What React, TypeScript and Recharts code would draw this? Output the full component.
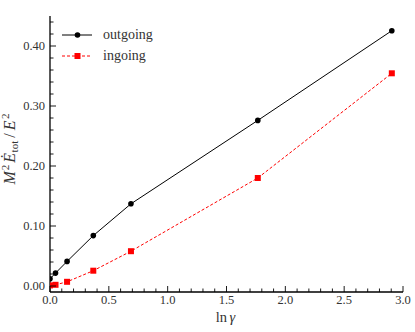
import React from 'react';
import { LineChart, Line, XAxis, YAxis, Legend } from 'recharts';

// ---- data ----
const lnGamma = [0, 0.047, 0.145, 0.368, 0.688, 1.766, 2.905];
const outgoing = [0.012, 0.0215, 0.041, 0.084, 0.137, 0.276, 0.4255];
const ingoing = [0.001, 0.002, 0.007, 0.0255, 0.058, 0.18, 0.3545];

const xTicks = [
  0, 0.1, 0.2, 0.3, 0.4, 0.5, 0.6, 0.7, 0.8, 0.9, 1.0, 1.1, 1.2, 1.3, 1.4, 1.5,
  1.6, 1.7, 1.8, 1.9, 2.0, 2.1, 2.2, 2.3, 2.4, 2.5, 2.6, 2.7, 2.8, 2.9, 3.0,
];
const yTicks = [
  0, 0.02, 0.04, 0.06, 0.08, 0.1, 0.12, 0.14, 0.16, 0.18, 0.2, 0.22, 0.24, 0.26,
  0.28, 0.3, 0.32, 0.34, 0.36, 0.38, 0.4, 0.42, 0.44,
];
const seriesNames = ['outgoing', 'ingoing'];

const data = lnGamma.map((x, i) => ({ x, out: outgoing[i], inn: ingoing[i] }));

// ---- styling ----
const FONT = 'Liberation Serif';
const RED = '#ff0000';
const TXT = '#333';
const isMajor = (v: number, step: number) => Math.abs(v / step - Math.round(v / step)) < 1e-6;
const MAJ = 6;
const MIN = 3.5;

const BottomTick = (p: any) => {
  const { x, y, payload } = p;
  const v = payload.value as number;
  const major = isMajor(v, 0.5);
  return (
    <g>
      <line x1={x} x2={x} y1={y} y2={y - (major ? MAJ : MIN)} stroke="#000" strokeWidth={0.9} />
      {major && (
        <text x={x} y={y + 12} textAnchor="middle" fontSize={12.5} fontFamily={FONT} style={{ fontFamily: FONT }} fill={TXT}>
          {v.toFixed(1)}
        </text>
      )}
    </g>
  );
};

const TopTick = (p: any) => {
  const { x, y, payload } = p;
  const v = payload.value as number;
  const major = isMajor(v, 0.5);
  return <line x1={x} x2={x} y1={y} y2={y + (major ? MAJ : MIN)} stroke="#000" strokeWidth={0.9} />;
};

const LeftTick = (p: any) => {
  const { x, y, payload } = p;
  const v = payload.value as number;
  const major = isMajor(v, 0.1);
  return (
    <g>
      <line x1={x} x2={x + (major ? MAJ : MIN)} y1={y} y2={y} stroke="#000" strokeWidth={0.9} />
      {major && (
        <text x={x - 5} y={y + 4.3} textAnchor="end" fontSize={12.5} fontFamily={FONT} style={{ fontFamily: FONT }} fill={TXT}>
          {v.toFixed(2)}
        </text>
      )}
    </g>
  );
};

const RightTick = (p: any) => {
  const { x, y, payload } = p;
  const v = payload.value as number;
  const major = isMajor(v, 0.1);
  return <line x1={x} x2={x - (major ? MAJ : MIN)} y1={y} y2={y} stroke="#000" strokeWidth={0.9} />;
};

const SquareDot = (p: any) => {
  const { cx, cy, index } = p;
  if (cx == null || cy == null) return <g key={`sq-${index}`} />;
  return <rect key={`sq-${index}`} x={cx - 3} y={cy - 3} width={6} height={6} fill={RED} />;
};

const YLabel = (p: any) => {
  const vb = p.viewBox || { x: 0, y: 16, width: 50, height: 276 };
  const cx = vb.x + 15;
  const cy = vb.y + vb.height / 2 - 5;
  return (
    <text
      transform={`translate(${cx},${cy}) rotate(-90)`}
      textAnchor="middle"
      fontFamily={FONT}
      style={{ fontFamily: FONT }}
      fontSize={16}
      fill={TXT}
    >
      <tspan fontStyle="italic">M</tspan>
      <tspan fontSize={11} dx={1} dy={-6}>2</tspan>
      <tspan fontStyle="italic" dx={2} dy={6}>Ė</tspan>
      <tspan fontSize={11} dx={0.5} dy={3}>tot</tspan>
      <tspan dx={3} dy={-3}>/</tspan>
      <tspan fontStyle="italic" dx={3}>E</tspan>
      <tspan fontSize={11} dx={1.5} dy={-6}>2</tspan>
    </text>
  );
};

const XLabel = (p: any) => {
  const vb = p.viewBox || { x: 50, y: 292, width: 353, height: 40 };
  return (
    <text x={vb.x + vb.width / 2 - 1} y={vb.y + 30} textAnchor="middle" fontFamily={FONT} style={{ fontFamily: FONT }} fontSize={14.5} fill={TXT}>
      <tspan>ln</tspan>
      <tspan fontStyle="italic" dx={2.5}>γ</tspan>
    </text>
  );
};

const LegendContent = () => (
  <div style={{ fontFamily: FONT, fontSize: 14, color: TXT }}>
    {seriesNames.map((name, i) => (
      <div key={name} style={{ display: 'flex', alignItems: 'center', height: 21.3 }}>
        <svg width={41.5} height={12} style={{ display: 'block' }}>
          {i === 0 ? (
            <g>
              <line x1={0} x2={30} y1={6} y2={6} stroke="#000" strokeWidth={1} />
              <circle cx={15.5} cy={6} r={2.8} fill="#000" />
            </g>
          ) : (
            <g>
              <line x1={0} x2={30} y1={6} y2={6} stroke={RED} strokeWidth={1} strokeDasharray="3 2" />
              <rect x={12.5} y={3} width={6} height={6} fill={RED} />
            </g>
          )}
        </svg>
        <span style={{ lineHeight: '14px' }}>{name}</span>
      </div>
    ))}
  </div>
);

export default function App() {
  return (
    <div style={{ position: 'absolute', left: 0, top: 0, width: 415, height: 332, background: '#fff', fontFamily: FONT }}>
      <LineChart width={415} height={332} data={data} margin={{ top: 16, right: 12, bottom: 0, left: 0 }}>
        <XAxis
          xAxisId="b"
          dataKey="x"
          type="number"
          domain={[0, 3]}
          allowDataOverflow
          ticks={xTicks}
          interval={0}
          orientation="bottom"
          height={40}
          tickSize={0}
          tickMargin={0}
          tickLine={false}
          axisLine={{ stroke: '#000', strokeWidth: 1.3 }}
          tick={<BottomTick />}
          label={<XLabel />}
        />
        <XAxis
          xAxisId="t"
          dataKey="x"
          type="number"
          domain={[0, 3]}
          allowDataOverflow
          ticks={xTicks}
          interval={0}
          orientation="top"
          height={0}
          tickSize={0}
          tickMargin={0}
          tickLine={false}
          axisLine={{ stroke: '#000', strokeWidth: 1.3 }}
          tick={<TopTick />}
        />
        <YAxis
          yAxisId="l"
          type="number"
          domain={[-0.01, 0.45]}
          allowDataOverflow
          ticks={yTicks}
          interval={0}
          orientation="left"
          width={50}
          tickSize={0}
          tickMargin={0}
          tickLine={false}
          axisLine={{ stroke: '#000', strokeWidth: 1.3 }}
          tick={<LeftTick />}
          label={<YLabel />}
        />
        <YAxis
          yAxisId="r"
          type="number"
          domain={[-0.01, 0.45]}
          allowDataOverflow
          ticks={yTicks}
          interval={0}
          orientation="right"
          width={0}
          tickSize={0}
          tickMargin={0}
          tickLine={false}
          axisLine={{ stroke: '#000', strokeWidth: 1.3 }}
          tick={<RightTick />}
        />
        <Legend
          layout="vertical"
          align="center"
          verticalAlign="middle"
          content={<LegendContent />}
          wrapperStyle={{ left: 61.5, top: 24.5, width: 'auto', height: 'auto' }}
        />
        <Line
          xAxisId="b"
          yAxisId="l"
          dataKey="out"
          name="outgoing"
          stroke="#000"
          strokeWidth={1}
          dot={{ r: 2.8, fill: '#000', stroke: '#000', strokeWidth: 0 }}
          isAnimationActive={false}
        />
        <Line
          xAxisId="b"
          yAxisId="l"
          dataKey="inn"
          name="ingoing"
          stroke={RED}
          strokeWidth={1}
          strokeDasharray="3 2"
          dot={<SquareDot />}
          isAnimationActive={false}
        />
      </LineChart>
    </div>
  );
}
